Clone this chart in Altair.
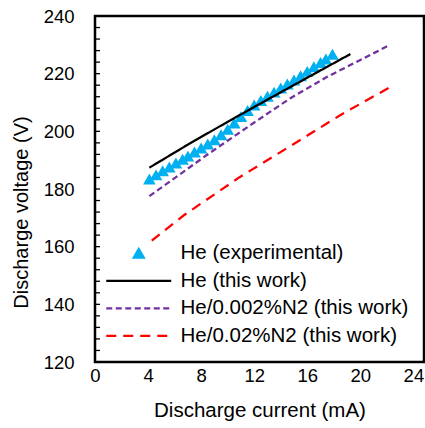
import altair as alt
import pandas as pd

SERIES = ["He (experimental)", "He (this work)", "He/0.002%N2 (this work)", "He/0.02%N2 (this work)"]
COLORS = ["#00B0F0", "#000000", "#7030A0", "#FF0000"]
DASHES = [[1, 0], [1, 0], [6, 3.5], [10, 7]]
LINE_SYMBOL = "M-6.5,0L6.5,0"
SHAPES = ["triangle-up", LINE_SYMBOL, LINE_SYMBOL, LINE_SYMBOL]

# experimental points (mA, V)
exp_current = [4.1, 4.6, 5.1, 5.6, 6.1, 6.6, 7.0, 7.5, 8.0, 8.5, 9.0, 9.5, 10.0, 10.5,
               11.0, 11.5, 12.0, 12.5, 13.0, 13.5, 14.0, 14.5, 15.0, 15.5, 16.0, 16.5,
               17.0, 17.4, 17.9]
exp_voltage = [183.5, 184.9, 186.3, 187.6, 189.0, 190.3, 191.4, 192.8, 194.2, 195.6,
               197.1, 198.8, 200.7, 202.9, 205.1, 207.2, 209.1, 210.7, 212.2, 213.6,
               215.0, 216.4, 217.8, 219.3, 220.8, 222.4, 223.9, 225.1, 226.7]

# model curves
he_current = [4.1, 7.0, 10.0, 13.0, 16.0, 19.25]
he_voltage = [187.4, 195.4, 203.3, 211.0, 218.6, 226.8]
n2a_current = [4.1, 8.4, 11.7, 14.7, 17.5, 22.2]
n2a_voltage = [177.5, 191.7, 202.1, 211.4, 218.9, 229.9]
n2b_current = [4.28, 6.67, 10.9, 14.2, 18.7, 22.2]
n2b_voltage = [162.1, 170.8, 184.1, 193.4, 206.2, 215.2]

x_ticks = [0, 4, 8, 12, 16, 20, 24]
y_ticks = [120, 140, 160, 180, 200, 220, 240]
y_minor = [124, 128, 132, 136, 140, 144, 148, 152, 156, 160, 164, 168, 172, 176,
           180, 184, 188, 192, 196, 200, 204, 208, 212, 216, 220, 224, 228, 232, 236]

FONT = "Liberation Sans"

exp_df = pd.DataFrame({"current": exp_current, "voltage": exp_voltage, "series": SERIES[0]})
rows = []
for name, cur, vol in [(SERIES[1], he_current, he_voltage),
                       (SERIES[2], n2a_current, n2a_voltage),
                       (SERIES[3], n2b_current, n2b_voltage)]:
    for i, (c, v) in enumerate(zip(cur, vol)):
        rows.append({"current": c, "voltage": v, "series": name, "order": i})
lines_df = pd.DataFrame(rows)
minor_df = pd.DataFrame({"v": y_minor})

x_scale = alt.Scale(domain=[0, 24.8], nice=False, zero=False)
y_scale = alt.Scale(domain=[120, 240], nice=False, zero=False)
color_scale = alt.Scale(domain=SERIES, range=COLORS)
shape_scale = alt.Scale(domain=SERIES, range=SHAPES)
dash_scale = alt.Scale(domain=SERIES, range=DASHES)

x_axis = alt.Axis(values=x_ticks, ticks=False, domain=False, grid=False,
                  labelFontSize=18.5, labelPadding=4, labelFlush=False,
                  title="Discharge current (mA)", titleFontSize=20.5,
                  titleFontWeight="normal", titleY=54, titleBaseline="alphabetic")
y_axis = alt.Axis(values=y_ticks, ticks=False, domain=False, grid=False,
                  labelFontSize=18.5, labelPadding=21, labelFlush=False,
                  title="Discharge voltage (V)", titleFontSize=20,
                  titleFontWeight="normal", titleX=-68, titleY=196,
                  titleBaseline="alphabetic", titleAlign="center")

legend = alt.Legend(
    title=None, orient="none", legendX=33.5, legendY=227, padding=0,
    symbolSize=100, symbolStrokeWidth=2.25, labelOffset=31.5, rowPadding=6.5,
    labelFontSize=20.5, labelFont=FONT, labelColor="black", labelLimit=400,
    symbolFillColor=COLORS[0],
)

minor = alt.Chart(minor_df).mark_rule(strokeWidth=1.3, color="black").encode(
    x=alt.value(0),
    x2=alt.value(5),
    y=alt.Y("v:Q", scale=y_scale, axis=y_axis),
)

points = alt.Chart(exp_df).mark_point(
    filled=True, size=160, opacity=1
).encode(
    x=alt.X("current:Q", scale=x_scale, axis=x_axis),
    y=alt.Y("voltage:Q", scale=y_scale, axis=y_axis),
    color=alt.Color("series:N", scale=color_scale, legend=legend),
    shape=alt.Shape("series:N", scale=shape_scale, legend=legend),
)

lines = alt.Chart(lines_df).mark_line(strokeWidth=2.25).encode(
    x=alt.X("current:Q", scale=x_scale, axis=x_axis),
    y=alt.Y("voltage:Q", scale=y_scale, axis=y_axis),
    color=alt.Color("series:N", scale=color_scale, legend=legend),
    strokeDash=alt.StrokeDash("series:N", scale=dash_scale, legend=legend),
    order="order:Q",
)

chart = alt.layer(minor, points, lines).properties(
    width=329, height=346,
    padding={"left": 95, "top": 16, "right": 1, "bottom": 66},
    autosize=alt.AutoSizeParams(type="none"),
).configure(font=FONT).configure_view(
    stroke="black", strokeWidth=2.5
).configure_axis(
    labelColor="black", titleColor="black", labelFont=FONT, titleFont=FONT
)

chart.save("out.html", embed_options={"renderer": "svg", "actions": False})
